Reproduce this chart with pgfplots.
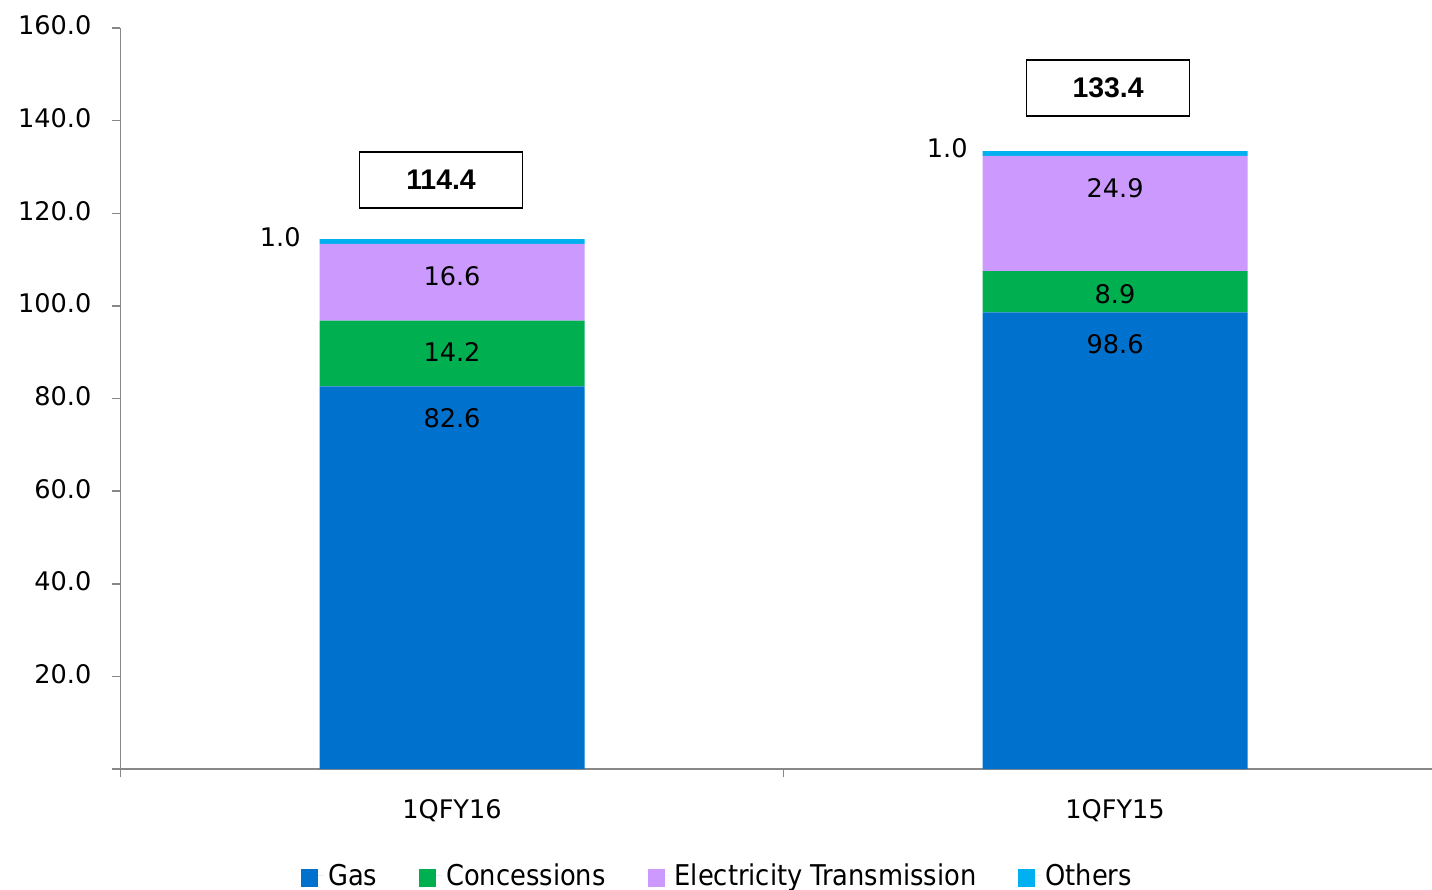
\documentclass[border=0pt]{standalone}
\usepackage{fontspec}
\setmainfont{DejaVu Sans}
\newfontfamily\condfont{DejaVu Sans Condensed}
\newfontfamily\totfont{Liberation Sans}
\usepackage{pgfplots}
\pgfplotsset{compat=1.18}
\definecolor{cGas}{HTML}{0072CE}
\definecolor{cCon}{HTML}{00B050}
\definecolor{cEle}{HTML}{CC99FF}
\definecolor{cOth}{HTML}{00B0F0}
\definecolor{axgray}{HTML}{888888}
\tikzset{
  lbl/.style={font=\fontsize{12.8}{14}\selectfont},
  tot/.style={draw=black, line width=0.75pt, minimum width=81.5pt, minimum height=28pt,
    font=\totfont\bfseries\fontsize{14.2}{16}\selectfont},
}
\pgfplotsset{
  sqlegend/.style={legend image code/.code={\fill[##1] (0pt,-5.5pt) rectangle (8.5pt,3.5pt);\path (0pt,0pt) -- (11.5pt,0pt);}},
}
\begin{document}
\begin{tikzpicture}
\begin{axis}[
  scale only axis,
  width=655.75pt, height=370.5pt,
  at={(0,0)}, anchor=south west,
  ybar stacked,
  bar width=132.5pt,
  xmin=-0.5, xmax=1.478,
  ymin=0, ymax=160,
  axis x line*=bottom, axis y line*=left,
  axis line style={draw=axgray, line width=0.75pt, -},
  tick style={draw=axgray, line width=0.75pt},
  tick align=outside,
  major tick length=4pt,
  ytick={0,20,40,60,80,100,120,140,160},
  yticklabels={,20.0,40.0,60.0,80.0,100.0,120.0,140.0,160.0},
  xtick={-0.5,0.5,1.5},
  xticklabels={,,},
  extra x ticks={0,1},
  extra x tick labels={1QFY16,1QFY15},
  extra x tick style={major tick length=0pt, xticklabel style={yshift=-11.5pt}},
  /pgf/number format/assume math mode=true,
  ticklabel style={font=\fontsize{12.8}{14}\selectfont},
  yticklabel style={xshift=-7pt, yshift=1.2pt},
  clip=false,
  legend columns=4,
  legend style={draw=none, fill=none, at={(0.456,-0.1444)}, anchor=center,
    font=\condfont\fontsize{14.3}{16}\selectfont,
    /tikz/every even column/.append style={column sep=19pt}},
  sqlegend,
]
\addplot[fill=cGas, draw=none] coordinates {(0,82.6) (1,98.6)};
\addplot[fill=cCon, draw=none] coordinates {(0,14.2) (1,8.9)};
\addplot[fill=cEle, draw=none] coordinates {(0,16.6) (1,24.9)};
\addplot[fill=cOth, draw=none] coordinates {(0,1.0) (1,1.0)};
\legend{Gas,Concessions,Electricity Transmission,Others}

\coordinate (a1) at (axis cs:0,75.8);
\coordinate (a2) at (axis cs:0,90.0);
\coordinate (a3) at (axis cs:0,106.5);
\coordinate (b1) at (axis cs:1,91.8);
\coordinate (b2) at (axis cs:1,102.6);
\coordinate (b3) at (axis cs:1,125.5);
\coordinate (o1) at (axis cs:-0.259,114.9);
\coordinate (o2) at (axis cs:0.747,134.1);
\coordinate (t1) at (axis cs:-0.0166,127.2);
\coordinate (t2) at (axis cs:0.9894,147.05);
\end{axis}
\node[lbl] at (a1) {82.6};
\node[lbl] at (a2) {14.2};
\node[lbl] at (a3) {16.6};
\node[lbl] at (b1) {98.6};
\node[lbl] at (b2) {8.9};
\node[lbl] at (b3) {24.9};
\node[lbl] at (o1) {1.0};
\node[lbl] at (o2) {1.0};
\node[tot] at (t1) {114.4};
\node[tot] at (t2) {133.4};
\pgfresetboundingbox
\path[use as bounding box] (-60.25pt,-60.5pt) rectangle (655.75pt,384.5pt);
\end{tikzpicture}
\end{document}
